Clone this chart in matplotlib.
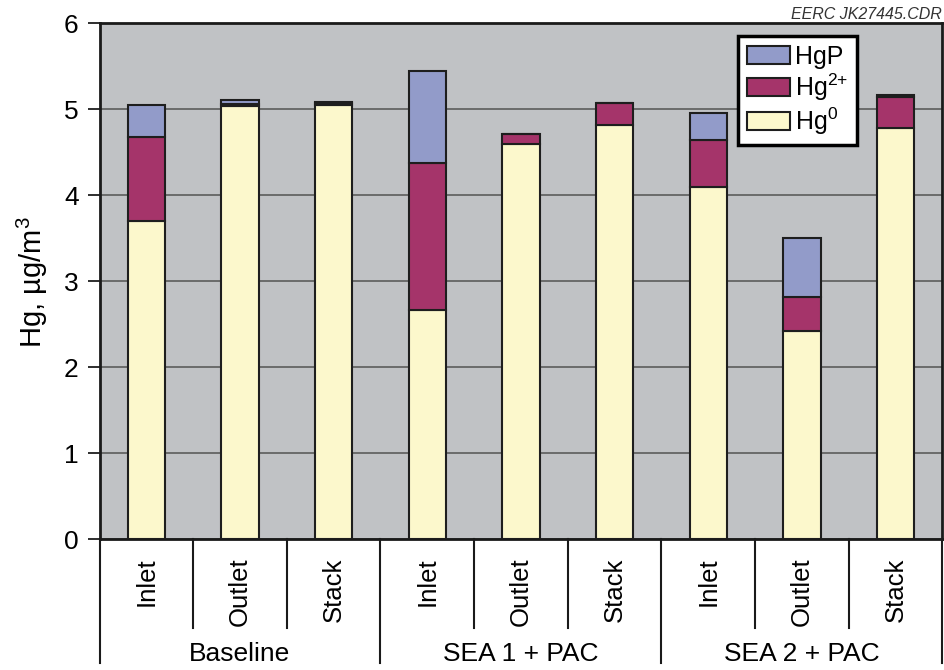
import matplotlib
matplotlib.use("Agg")
import matplotlib.pyplot as plt
import numpy as np
from matplotlib.transforms import blended_transform_factory
from matplotlib.lines import Line2D

# Mercury speciation (µg/m3) at each sampling location
groups = ["Baseline", "SEA 1 + PAC", "SEA 2 + PAC"]
locations = ["Inlet", "Outlet", "Stack"]
hg0 = [3.70, 5.04, 5.05, 2.67, 4.59, 4.81, 4.09, 2.42, 4.78]
hg2 = [0.98, 0.02, 0.02, 1.70, 0.12, 0.26, 0.55, 0.40, 0.36]
hgp = [0.37, 0.04, 0.01, 1.07, 0.00, 0.00, 0.31, 0.68, 0.02]
yticks = [0, 1, 2, 3, 4, 5, 6]

plt.rcParams['font.family'] = ['Liberation Sans', 'DejaVu Sans']
plt.rcParams['mathtext.default'] = 'regular'

C_HG0 = '#fcf8cc'
C_HG2 = '#a5346a'
C_HGP = '#929bc9'
EDGE = '#1e1e1e'

fig = plt.figure(figsize=(9.45, 6.7), dpi=100)
ax = fig.add_axes([0.1053, 0.195, 0.892, 0.7706])

n = len(groups) * len(locations)
x = np.arange(n)
a0 = np.array(hg0)
a2 = np.array(hg2)
ap = np.array(hgp)
w = 0.4
b0 = ax.bar(x, a0, w, color=C_HG0, edgecolor=EDGE, linewidth=1.5, zorder=3)
b2 = ax.bar(x, a2, w, bottom=a0, color=C_HG2, edgecolor=EDGE, linewidth=1.5, zorder=3)
bp = ax.bar(x, ap, w, bottom=a0 + a2, color=C_HGP, edgecolor=EDGE, linewidth=1.5, zorder=3)

ax.set_xlim(-0.5, n - 0.5)
ax.set_ylim(0, 6)
ax.set_facecolor('#c0c2c5')
ax.set_yticks(yticks)
ax.yaxis.grid(True, color='#5c5c5c', linewidth=1.2)
ax.set_axisbelow(True)
ax.set_xticks([])
ax.tick_params(axis='y', direction='out', length=9, width=1.3, pad=6,
               labelsize=19, color='#1e1e1e')
for s in ax.spines.values():
    s.set_linewidth(2)
    s.set_color('#1a1a1a')

# Vertical axis title, centred on the plot height
fig.text(32 / 945, 1 - 282 / 670, "Hg, µg/m$^{3}$", rotation=90,
         ha='center', va='center', fontsize=21)

# Category axis drawn below the plot: location names, group names, dividers
trans = blended_transform_factory(ax.transData, ax.transAxes)
for i in range(n):
    ax.text(i, -0.035, locations[i % len(locations)], rotation=90,
            ha='center', va='top', fontsize=18.5, transform=trans)
for g, name in enumerate(groups):
    ax.text(g * len(locations) + 1, -0.2364, name, ha='center', va='baseline',
            fontsize=19, transform=trans)
for b in np.arange(-0.5, n, 1.0):
    is_group_edge = int(round(b + 0.5)) % len(locations) == 0
    yend = -0.240 if is_group_edge else -0.1725
    fig.add_artist(Line2D([b, b], [0, yend], transform=trans, color='#1a1a1a',
                          linewidth=1.5, clip_on=False))

leg = ax.legend([bp[0], b2[0], b0[0]], ["HgP", "Hg$^{2{+}}$", "Hg$^{0}$"],
                loc='upper left', bbox_to_anchor=(0.758, 0.975), borderaxespad=0,
                fontsize=18, handlelength=1.72, handleheight=0.72,
                labelspacing=0.1, handletextpad=0.2, borderpad=0.35,
                fancybox=False, framealpha=1, facecolor='white', edgecolor='black')
leg.get_frame().set_linewidth(2.5)
leg.set_zorder(5)

fig.text(0.997, 0.979, "EERC JK27445.CDR", ha='right', va='center',
         fontsize=11.5, style='italic', color='#333333')

fig.savefig("out.png", dpi=100, facecolor='white')
